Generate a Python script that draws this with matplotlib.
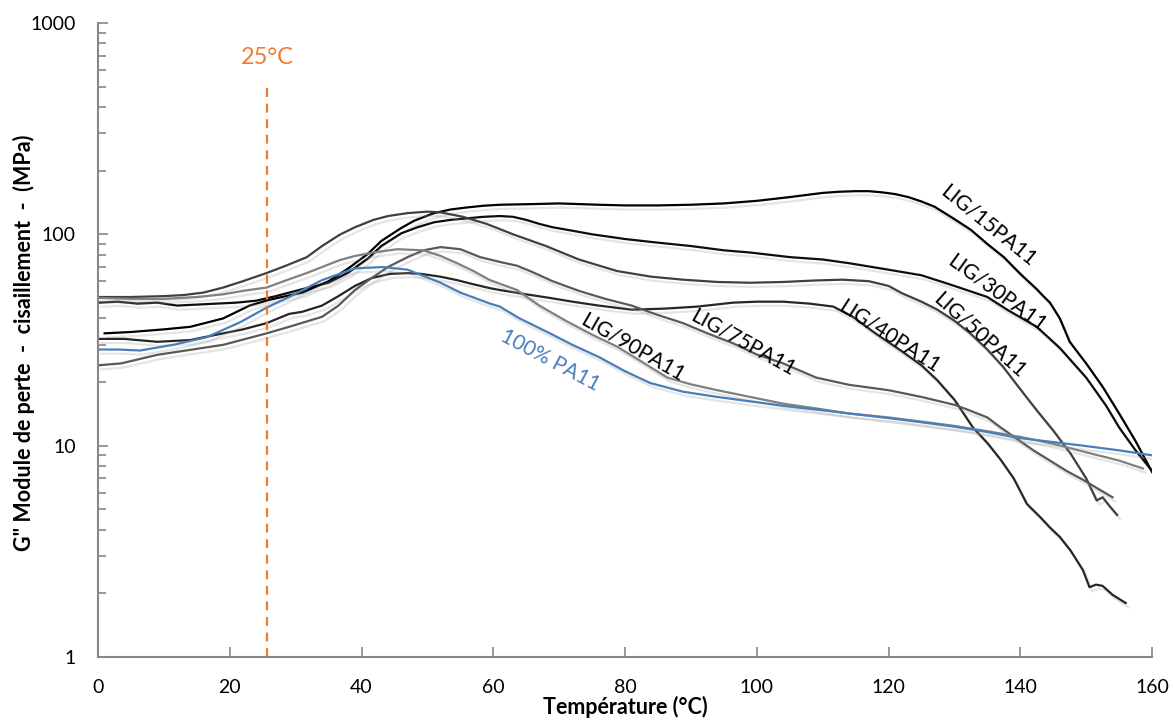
import matplotlib
matplotlib.use('Agg')
import matplotlib.pyplot as plt
import matplotlib.patheffects as pe
from matplotlib.ticker import LogLocator, NullFormatter, FixedLocator

plt.rcParams['font.family'] = ['Lato', 'DejaVu Sans']

# LIG/15PA11
t_15 = [1, 5, 10, 14, 19, 23, 26, 31, 35, 38, 41, 43, 46, 48, 51, 53.5, 56,
        58.5, 61, 63.5, 66, 70, 76, 80, 85, 90, 95, 100, 105, 110, 112.5, 115,
        117, 119, 121, 123, 125, 127, 130, 132.5, 135, 137.5, 140, 142.5,
        143.5, 144.5, 146, 147.5, 150, 152.5, 155, 157.5, 160]
g_15 = [34, 34.5, 35.5, 36.5, 40, 46, 49, 53, 60, 69, 81, 93, 107, 116, 126,
        131, 134, 136.5, 138, 138.5, 139, 140, 138, 137, 137, 138, 140, 144,
        150, 157, 159, 160, 160, 158, 155, 150, 143, 135, 118, 105, 90, 78, 65,
        55, 51, 47.5, 40, 31, 24.5, 19, 14.2, 10.5, 7.5]

# LIG/30PA11
t_30 = [0, 3, 6, 9, 12, 15, 18, 21, 24, 27, 31, 35, 38, 41, 43, 46, 48.5, 51,
        53.5, 56, 58.5, 61, 63, 65, 67, 69, 72, 75, 80, 84, 90, 95, 99, 105,
        110, 114, 120, 125, 130, 135, 138, 142.5, 146, 150, 153, 155, 157.5,
        160]
g_30 = [47.5, 48, 47, 47.5, 46, 46.5, 47, 47.5, 48.5, 51, 55, 59, 66, 77, 88,
        101, 108, 114, 117, 119, 121, 122, 121, 117, 112, 108, 104, 100, 95,
        92, 88, 84, 82, 78, 76, 73, 68, 64, 57, 50.5, 44, 36.5, 29, 21, 15.5,
        12.2, 9.5, 7.6]

# LIG/50PA11
t_50 = [0, 5, 10, 13, 16, 19, 22, 25.6, 28.5, 31.7, 34, 36.7, 39, 41.8, 44,
        47, 50, 52, 55.4, 59, 63, 68, 73, 78.8, 84, 88.8, 94, 99, 104, 109,
        113, 117, 120, 122, 125, 127.4, 130, 132.4, 135, 137.4, 140, 142.5,
        145, 147.6, 150, 151.6, 152.5, 153.5, 154.7]
g_50 = [50.5, 50.5, 51, 51.6, 53, 56, 60, 65.6, 71, 78, 88, 99.6, 108, 117,
        122, 126, 128, 127, 121, 112, 100, 88, 76, 67, 63, 61, 59.5, 59, 59.5,
        60.5, 61, 60, 57, 52.7, 48, 44, 39, 34, 28.5, 23.6, 18.5, 14.7, 11.8,
        9.2, 7, 5.5, 5.7, 5.2, 4.7]

# LIG/40PA11
t_40 = [0, 4, 9, 14, 19, 22, 25.6, 29, 31, 34, 36.5, 39, 41.5, 44.3, 47, 49,
        52, 54.5, 57, 59.5, 61, 65, 68.6, 72, 76, 81, 86, 91, 96.4, 100, 104,
        108, 111.6, 114.6, 118, 122, 125, 127.4, 130, 132.8, 135, 137, 139,
        141, 143, 144.5, 146, 147.6, 149.5, 150.5, 151.5, 152.5, 154, 156]
g_40 = [32, 32, 31, 31.6, 34, 35.5, 38, 42, 43, 46, 51, 57, 62, 65, 65.5, 65,
        63, 60.7, 58, 55.6, 54.5, 52, 50, 48, 46, 44, 44.5, 45.5, 47.5, 48, 48,
        47, 45.5, 40.7, 34, 28, 24, 20.4, 16.5, 12.2, 10.3, 8.6, 7, 5.3, 4.6,
        4.1, 3.7, 3.2, 2.58, 2.14, 2.2, 2.17, 1.97, 1.8]

# LIG/75PA11
t_75 = [0, 3.5, 9, 14, 19, 25.6, 29, 34, 36.5, 39, 41.5, 44, 47, 49.4, 52, 55,
        58, 61, 63.6, 65.6, 69, 73, 77, 81, 85, 88.8, 92.5, 96.4, 100, 104,
        109, 114, 120, 125, 130, 132, 135, 137, 140, 142, 144.5, 147, 149.5,
        152, 154]
g_75 = [24, 24.5, 26.9, 28.4, 30, 34, 36.5, 40.7, 46, 54.5, 62, 70, 78, 84,
        87, 85, 78, 74, 71, 67, 60, 54, 49.5, 46, 41.5, 38, 34, 30.5, 27, 24.5,
        21, 19.4, 18.3, 17, 15.6, 14.8, 13.6, 12.2, 10.5, 9.5, 8.5, 7.6, 6.9,
        6.2, 5.7]

# LIG/90PA11
t_90 = [0, 5, 10, 15, 19, 22, 25.6, 28.5, 31.7, 34, 36.7, 39, 41.8, 45.4,
        49.4, 52, 54.5, 57, 59.5, 63.6, 67, 71, 75, 78.8, 82.5, 86.4, 90, 94,
        99, 104, 109, 114, 120, 125, 130, 135, 140, 145, 150, 155, 158.6]
g_90 = [50, 49.5, 49.5, 50.5, 52, 54, 56, 60.5, 65.6, 70, 75.5, 79, 82, 85,
        84, 79, 73, 67, 60.7, 54.5, 46, 39, 33.5, 29.4, 25, 21, 19.5, 18.3, 17,
        15.8, 15, 14.2, 13.6, 13, 12.4, 11.7, 11, 10.2, 9.3, 8.5, 7.8]

# 100% PA11
t_pa = [0, 3, 6.4, 11.4, 16.5, 21.6, 25.6, 29, 34, 39, 43.3, 47, 52, 55, 59.5,
        61, 64, 68.6, 72, 76, 80, 83.8, 88.8, 94, 99, 105, 110, 114, 120, 125,
        130, 135, 139.5, 145, 149.5, 155, 160]
g_pa = [28.5, 28.5, 28.2, 30, 32.6, 38.4, 45, 50.5, 60.7, 69, 70, 68, 59, 53,
        47, 45.5, 40, 34, 30, 26.3, 22.5, 19.8, 18, 17, 16.2, 15.3, 14.7, 14.2,
        13.5, 12.9, 12.3, 11.6, 10.9, 10.4, 10, 9.5, 9.0]

names = ['LIG/15PA11', 'LIG/30PA11', 'LIG/50PA11', 'LIG/40PA11',
         'LIG/75PA11', 'LIG/90PA11', '100% PA11']
temps = [t_15, t_30, t_50, t_40, t_75, t_90, t_pa]
moduli = [g_15, g_30, g_50, g_40, g_75, g_90, g_pa]
colors = ['#000000', '#0d0d0d', '#404040', '#262626',
          '#595959', '#808080', '#4a7ebb']

# label placement (x, y, angle)
label_pos = [(135.1, 110, -39), (136.5, 53, -36), (133.9, 33.4, -42),
             (120.2, 33, -33), (97.9, 30.6, -29), (81.1, 29.3, -30),
             (68.6, 25.4, -28)]

ref_temp = 25.7

fig = plt.figure(figsize=(11.74, 7.2), dpi=100)
ax = fig.add_axes([0.0835, 0.0875, 0.8978, 0.8806])

shadow = [pe.SimpleLineShadow(offset=(2, -3), shadow_color='0.6', alpha=0.25),
          pe.Normal()]

for t, g, c in zip(temps, moduli, colors):
    ax.plot(t, g, color=c, lw=1.6, path_effects=shadow,
            solid_joinstyle='round')

for name, c, (x, y, rot) in zip(names, colors, label_pos):
    tc = c if name.startswith('100') else 'black'
    ax.text(x, y, name, color=tc, fontsize=15, rotation=rot,
            rotation_mode='anchor', ha='center', va='center')

ax.plot([ref_temp, ref_temp], [1, 520], color='#ed7d31', lw=1.6,
        ls=(0, (4, 3)))
ax.text(ref_temp, 690, '25°C', color='#ed7d31', fontsize=17,
        ha='center', va='center')

ax.set_yscale('log')
ax.set_xlim(0, 160)
ax.set_ylim(1, 1000)
ax.xaxis.set_major_locator(FixedLocator(range(0, 161, 20)))
ax.yaxis.set_major_locator(FixedLocator([1, 10, 100, 1000]))
ax.yaxis.set_major_formatter(matplotlib.ticker.FuncFormatter(
    lambda v, p: '%d' % v))
ax.yaxis.set_minor_locator(LogLocator(base=10, subs=range(2, 10)))
ax.yaxis.set_minor_formatter(NullFormatter())

for side in ['top', 'right']:
    ax.spines[side].set_visible(False)
for side in ['left', 'bottom']:
    ax.spines[side].set_color('#868686')
    ax.spines[side].set_linewidth(1.5)

ax.tick_params(axis='both', which='both', direction='in', color='#868686',
               width=1.2, labelsize=14)
ax.tick_params(axis='both', which='major', length=7)
ax.tick_params(axis='y', which='minor', length=6)
ax.tick_params(axis='x', pad=16)
ax.tick_params(axis='y', pad=16)

ax.set_xlabel('Température (°C)', fontsize=15.5, fontweight='bold')
ax.xaxis.set_label_coords(0.5, -0.061)
ax.set_ylabel('G" Module de perte  -  cisaillement  -  (MPa)', fontsize=15.5,
              fontweight='bold')
ax.yaxis.set_label_coords(-0.06, 0.495)

plt.savefig('out.png', dpi=100)
